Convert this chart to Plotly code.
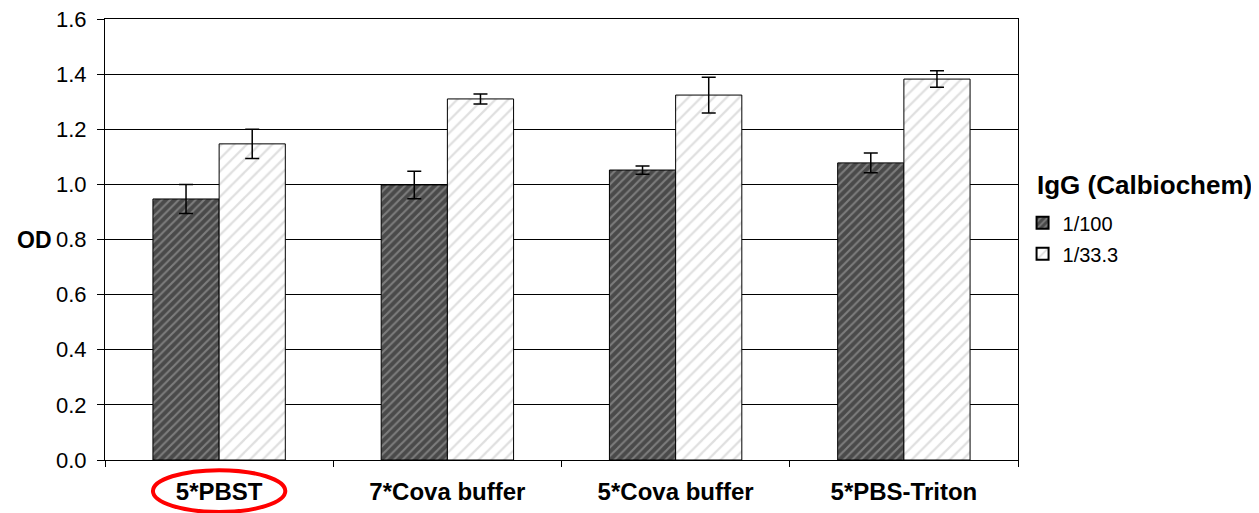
import plotly.graph_objects as go

categories = ["5*PBST", "7*Cova buffer", "5*Cova buffer", "5*PBS-Triton"]
tick_labels = ["<b>5*PBST</b>", "<b>7*Cova buffer</b>", "<b>5*Cova buffer</b>", "<b>5*PBS-Triton</b>"]
series_names = ["1/100", "1/33.3"]
od_1_100 = [0.947, 0.998, 1.052, 1.078]
err_1_100 = [0.053, 0.050, 0.015, 0.036]
od_1_33 = [1.147, 1.310, 1.324, 1.382]
err_1_33 = [0.053, 0.018, 0.065, 0.030]
y_ticks = [0.0, 0.2, 0.4, 0.6, 0.8, 1.0, 1.2, 1.4, 1.6]

FONT = "Liberation Sans, Arial, sans-serif"

fig = go.Figure()
fig.add_trace(go.Bar(
    x=categories, y=od_1_100, name=series_names[0], legendgroup="a",
    error_y=dict(type="data", array=err_1_100, color="black", thickness=1.5, width=7),
    marker=dict(color="#4a4a4a", line=dict(color="black", width=1),
                pattern=dict(shape="/", fgcolor="#b0b0b0", bgcolor="#4a4a4a", size=6, solidity=0.35)),
))
fig.add_trace(go.Bar(
    x=categories, y=od_1_33, name=series_names[1], legendgroup="b",
    error_y=dict(type="data", array=err_1_33, color="black", thickness=1.5, width=7),
    marker=dict(color="white", line=dict(color="black", width=1),
                pattern=dict(shape="/", fgcolor="#c0c0c0", bgcolor="white", size=9, solidity=0.25)),
))

# page body has an 8px margin: compensate so plot area lands at (105,19)-(1018,460)
fig.update_layout(
    width=1251, height=505,
    margin=dict(l=97, r=241, t=11, b=53, autoexpand=False),
    paper_bgcolor="white", plot_bgcolor="white",
    barmode="group", bargap=0.42, bargroupgap=0,
    font=dict(family=FONT, color="black"),
    showlegend=True,
    legend=dict(
        x=1.005, y=0.582, xanchor="left", yanchor="top",
        font=dict(size=20, family=FONT),
        itemsizing="constant", traceorder="grouped", tracegroupgap=2,
    ),
)
fig.update_xaxes(
    tickvals=categories, ticktext=tick_labels, tickfont=dict(size=24, family=FONT),
    showline=True, linecolor="black", linewidth=1, mirror=True,
    ticks="outside", tickson="boundaries", ticklen=6, tickcolor="black",
    ticklabelstandoff=10, ticklabeloverflow="allow",
    showgrid=False, automargin=False,
)
fig.update_yaxes(
    range=[0, 1.6], tickvals=y_ticks, ticktext=[f"{v:.1f}" for v in y_ticks],
    tickfont=dict(size=22, family=FONT),
    showline=True, linecolor="black", linewidth=1, mirror=True,
    ticks="outside", ticklen=7, tickcolor="black",
    ticklabelstandoff=6, ticklabeloverflow="allow",
    showgrid=True, gridcolor="black", gridwidth=1, zeroline=False, automargin=False,
)
fig.add_annotation(
    text="<b>OD</b>", xref="paper", yref="y", x=-0.056, y=0.8,
    xanchor="right", yanchor="middle", showarrow=False,
    font=dict(size=23, family=FONT),
)
fig.add_annotation(
    text="<b>IgG (Calbiochem)</b>", xref="paper", yref="paper", x=1.0186, y=0.6236,
    xanchor="left", yanchor="middle", showarrow=False,
    font=dict(size=26, family=FONT),
)
fig.add_shape(
    type="circle", xref="x", yref="paper",
    x0=-0.29, x1=0.29, y0=-0.023, y1=-0.118,
    line=dict(color="red", width=4),
)

fig.write_html("out.html")
